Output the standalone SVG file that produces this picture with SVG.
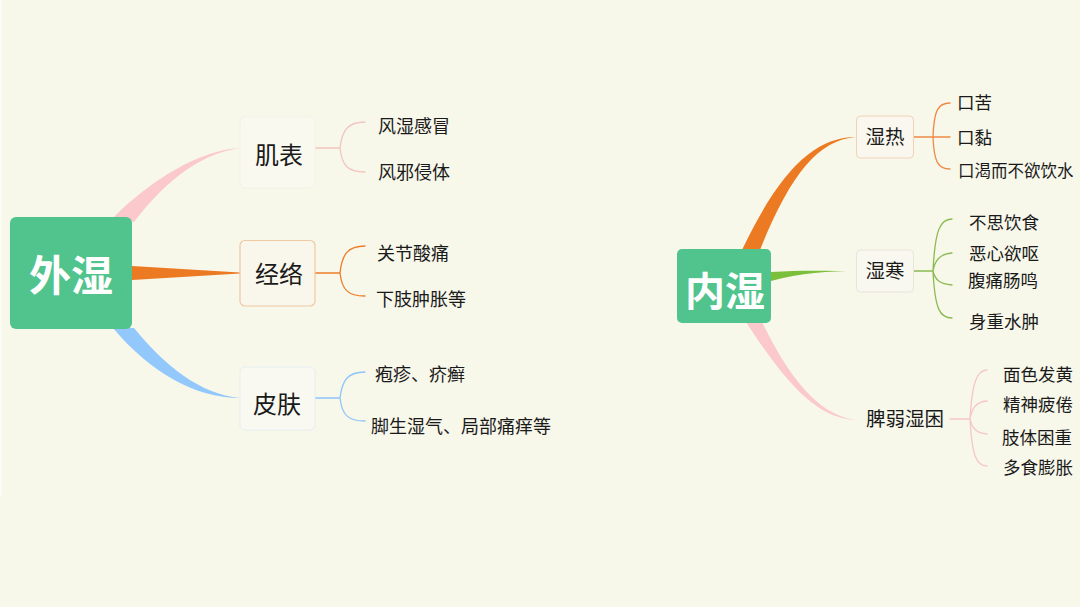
<svg xmlns="http://www.w3.org/2000/svg" width="1080" height="607" viewBox="0 0 1080 607">
<style>
text{font-family:"Noto Sans CJK SC","Noto Sans",sans-serif;fill:#1a1a1a}
.root{fill:#50c48c}
.rt{fill:#fff;font-weight:bold;font-size:42px;text-anchor:middle;dominant-baseline:central}
.m{font-size:24px;text-anchor:middle;dominant-baseline:central}
.m2{font-size:19.5px;text-anchor:middle;dominant-baseline:central}
.l{font-size:18px;dominant-baseline:central}
.r{font-size:17.5px;dominant-baseline:central}
.br{fill:none;stroke-width:1.3;stroke-linecap:round}
</style>
<rect width="1080" height="607" fill="#f7f7ea"/>
<rect x="0" y="0" width="2" height="496" fill="#fcfcf6"/>

<g id="connectors">
  <path d="M112 219 C150 180,200 150,240 148 C205 153,170 175,134 222 Z" fill="#fbc9cb"/>
  <path d="M132 266 L240 272.5 L240 273.5 L132 280 Z" fill="#ec7a22"/>
  <path d="M113 328 C150 372,195 398,240 398 C200 394,165 366,134 328 Z" fill="#92c8fb"/>
  <path d="M742 250 C780 170,815 137,856 137 C818 140,790 175,760 250 Z" fill="#ec7a22"/>
  <path d="M771 272 C800 270,830 271,856 271 C830 271,800 273,771 281 Z" fill="#7cbf3a"/>
  <path d="M746 322 C790 390,820 419,856 420 C825 416,795 390,762 322 Z" fill="#fbc9cb"/>
  <path class="br" stroke="#f2c6bf" d="M315 148 H340 M365 122 C348 122,342 130,340 148 C342 166,348 172,365 172"/>
  <path class="br" stroke="#ed7d2a" stroke-width="1.8" d="M315 273 H340 M365 246 C348 246,342 254,340 273 C342 290,348 296,365 296"/>
  <path class="br" stroke="#8ec5fb" stroke-width="1.6" d="M315 398 H340 M365 372 C348 372,342 380,340 398 C342 415,348 421,365 421"/>
  <path class="br" stroke="#ee8a45" d="M913 137 H950 M950 103 C938 103,934 110,933 137 C934 162,938 169,950 169"/>
  <path class="br" stroke="#8cba52" d="M913 271 H933 M952 219 C940 219,935 230,933 271 C935 310,940 318,952 318 M952 253 C940 254,935 260,933 271 M952 285 C940 284,935 280,933 271"/>
  <path class="br" stroke="#f6c7c4" stroke-width="1" d="M950 419 H970 M987 370 C976 370,972 385,970 419 C972 455,976 466,987 466 M987 401 C976 402,972 408,970 419 M987 434 C976 433,972 428,970 419"/>
</g>

<g id="n-waishi"><rect class="root" x="10" y="217" width="122" height="112" rx="6"/><text class="rt" x="71" y="272">外湿</text></g>
<g id="n-jibiao"><rect x="240" y="117" width="75" height="71" rx="5" fill="#f9f9f0" stroke="#f3f2e6" stroke-width="1"/><text class="m" x="279" y="153">肌表</text></g>
<g id="n-jingluo"><rect x="240" y="240.5" width="75" height="65.5" rx="5" fill="#f9f6ec" stroke="#f0c8a2" stroke-width="1.2"/><text class="m" x="279" y="272">经络</text></g>
<g id="n-pifu"><rect x="240" y="367" width="75" height="63" rx="5" fill="#f9f9f1" stroke="#e6eef2" stroke-width="1"/><text class="m" x="277" y="402">皮肤</text></g>
<g id="t-left">
  <text class="l" x="378" y="125">风湿感冒</text>
  <text class="l" x="378" y="171">风邪侵体</text>
  <text class="l" x="377" y="252">关节酸痛</text>
  <text class="l" x="376" y="298">下肢肿胀等</text>
  <text class="l" x="375" y="373">疱疹、疥癣</text>
  <text class="l" x="371" y="425">脚生湿气、局部痛痒等</text>
</g>

<g id="n-neishi"><rect class="root" x="677" y="249" width="94" height="74" rx="5"/><text class="rt" x="725" y="289" style="font-size:40px">内湿</text></g>
<g id="n-shire"><rect x="856.5" y="116" width="57" height="42" rx="4" fill="#f9f7ee" stroke="#f1d2b8" stroke-width="1"/><text class="m2" x="885" y="135">湿热</text></g>
<g id="n-shihan"><rect x="856.5" y="250" width="57" height="42" rx="4" fill="#f9f8f0" stroke="#e8e6da" stroke-width="1"/><text class="m2" x="885" y="269">湿寒</text></g>
<g id="n-piruo"><text class="m2" x="905" y="417">脾弱湿困</text></g>
<g id="t-right">
  <text class="r" x="957" y="101">口苦</text>
  <text class="r" x="957" y="136">口黏</text>
  <text class="r" x="958" y="170" style="font-size:16.5px">口渴而不欲饮水</text>
  <text class="r" x="969" y="221">不思饮食</text>
  <text class="r" x="969" y="252">恶心欲呕</text>
  <text class="r" x="968" y="279">腹痛肠鸣</text>
  <text class="r" x="969" y="320">身重水肿</text>
  <text class="r" x="1003" y="373">面色发黄</text>
  <text class="r" x="1003" y="403">精神疲倦</text>
  <text class="r" x="1002" y="436">肢体困重</text>
  <text class="r" x="1003" y="466">多食膨胀</text>
</g>
</svg>
